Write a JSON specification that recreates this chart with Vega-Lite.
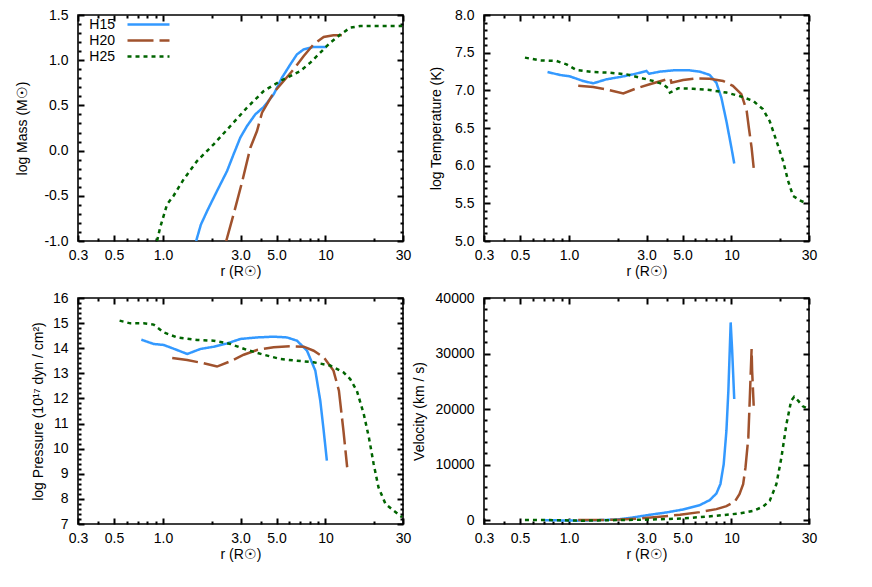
{
"$schema": "https://vega.github.io/schema/vega-lite/v6.json",
"background": "white",
"padding": {"left": 15, "top": 7, "right": 5, "bottom": 5},
"config": {
 "font": "Liberation Sans",
 "view": {"stroke": "#000", "strokeWidth": 1.6},
 "axis": {"grid": false, "domain": false, "ticks": true, "tickColor": "black", "tickWidth": 2, "tickOpacity": 1, "labelFontSize": 14, "titleFontSize": 14, "labelColor": "#000", "titleColor": "#000", "titleFontWeight": "normal", "labelFlush": false, "labelOverlap": false, "labelBound": false, "zindex": 1},
 "legend": {"labelFontSize": 14, "labelColor": "#000"}
},
"datasets": {
 "mass": [
  {"r":1.60,"v":-1.0,"s":"H15"},{"r":1.71,"v":-0.82,"s":"H15"},{"r":1.87,"v":-0.668,"s":"H15"},{"r":2.15,"v":-0.447,"s":"H15"},{"r":2.48,"v":-0.226,"s":"H15"},{"r":2.72,"v":-0.041,"s":"H15"},{"r":2.99,"v":0.143,"s":"H15"},{"r":3.29,"v":0.272,"s":"H15"},{"r":3.70,"v":0.401,"s":"H15"},{"r":4.17,"v":0.483,"s":"H15"},{"r":4.80,"v":0.622,"s":"H15"},{"r":5.40,"v":0.807,"s":"H15"},{"r":6.08,"v":0.954,"s":"H15"},{"r":6.68,"v":1.065,"s":"H15"},{"r":7.35,"v":1.12,"s":"H15"},{"r":8.46,"v":1.146,"s":"H15"},{"r":10.2,"v":1.146,"s":"H15"},
  {"r":2.45,"v":-1.0,"s":"H20"},{"r":2.72,"v":-0.705,"s":"H20"},{"r":3.06,"v":-0.355,"s":"H20"},{"r":3.45,"v":0.032,"s":"H20"},{"r":3.79,"v":0.217,"s":"H20"},{"r":4.07,"v":0.42,"s":"H20"},{"r":4.80,"v":0.641,"s":"H20"},{"r":5.53,"v":0.77,"s":"H20"},{"r":6.37,"v":0.899,"s":"H20"},{"r":7.35,"v":1.046,"s":"H20"},{"r":8.46,"v":1.176,"s":"H20"},{"r":9.75,"v":1.257,"s":"H20"},{"r":11.2,"v":1.275,"s":"H20"},{"r":13.6,"v":1.275,"s":"H20"},
  {"r":0.92,"v":-1.0,"s":"H25"},{"r":0.96,"v":-0.853,"s":"H25"},{"r":1.06,"v":-0.594,"s":"H25"},{"r":1.16,"v":-0.502,"s":"H25"},{"r":1.34,"v":-0.318,"s":"H25"},{"r":1.62,"v":-0.115,"s":"H25"},{"r":2.05,"v":0.069,"s":"H25"},{"r":2.60,"v":0.272,"s":"H25"},{"r":3.29,"v":0.475,"s":"H25"},{"r":4.17,"v":0.659,"s":"H25"},{"r":5.28,"v":0.77,"s":"H25"},{"r":6.08,"v":0.825,"s":"H25"},{"r":7.01,"v":0.881,"s":"H25"},{"r":8.07,"v":0.973,"s":"H25"},{"r":9.29,"v":1.083,"s":"H25"},{"r":10.7,"v":1.194,"s":"H25"},{"r":12.4,"v":1.286,"s":"H25"},{"r":14.2,"v":1.36,"s":"H25"},{"r":16.4,"v":1.378,"s":"H25"},{"r":29.6,"v":1.378,"s":"H25"}
 ],
 "temp": [
  {"r":0.738,"v":7.243,"s":"H15"},{"r":0.88,"v":7.204,"s":"H15"},{"r":1.01,"v":7.186,"s":"H15"},{"r":1.22,"v":7.124,"s":"H15"},{"r":1.41,"v":7.093,"s":"H15"},{"r":1.70,"v":7.146,"s":"H15"},{"r":2.06,"v":7.177,"s":"H15"},{"r":2.48,"v":7.212,"s":"H15"},{"r":3.0,"v":7.257,"s":"H15"},{"r":3.11,"v":7.22,"s":"H15"},{"r":3.62,"v":7.248,"s":"H15"},{"r":4.38,"v":7.265,"s":"H15"},{"r":5.54,"v":7.265,"s":"H15"},{"r":6.38,"v":7.248,"s":"H15"},{"r":7.35,"v":7.204,"s":"H15"},{"r":8.08,"v":7.10,"s":"H15"},{"r":8.67,"v":6.90,"s":"H15"},{"r":9.31,"v":6.59,"s":"H15"},{"r":9.99,"v":6.24,"s":"H15"},{"r":10.4,"v":6.03,"s":"H15"},
  {"r":1.14,"v":7.06,"s":"H20"},{"r":1.41,"v":7.044,"s":"H20"},{"r":1.70,"v":7.013,"s":"H20"},{"r":2.16,"v":6.96,"s":"H20"},{"r":2.60,"v":7.027,"s":"H20"},{"r":3.14,"v":7.08,"s":"H20"},{"r":3.98,"v":7.146,"s":"H20"},{"r":4.22,"v":7.155,"s":"H20"},{"r":4.27,"v":7.10,"s":"H20"},{"r":5.04,"v":7.137,"s":"H20"},{"r":6.08,"v":7.159,"s":"H20"},{"r":7.35,"v":7.155,"s":"H20"},{"r":8.88,"v":7.124,"s":"H20"},{"r":10.2,"v":7.06,"s":"H20"},{"r":11.5,"v":6.95,"s":"H20"},{"r":12.4,"v":6.73,"s":"H20"},{"r":12.8,"v":6.50,"s":"H20"},{"r":13.3,"v":6.24,"s":"H20"},{"r":13.7,"v":5.97,"s":"H20"},
  {"r":0.536,"v":7.434,"s":"H25"},{"r":0.66,"v":7.398,"s":"H25"},{"r":0.84,"v":7.389,"s":"H25"},{"r":0.966,"v":7.345,"s":"H25"},{"r":1.11,"v":7.27,"s":"H25"},{"r":1.41,"v":7.243,"s":"H25"},{"r":1.79,"v":7.234,"s":"H25"},{"r":2.26,"v":7.212,"s":"H25"},{"r":2.73,"v":7.168,"s":"H25"},{"r":3.30,"v":7.124,"s":"H25"},{"r":3.80,"v":7.08,"s":"H25"},{"r":4.08,"v":7.027,"s":"H25"},{"r":4.18,"v":6.97,"s":"H25"},{"r":4.38,"v":6.99,"s":"H25"},{"r":4.70,"v":7.027,"s":"H25"},{"r":5.81,"v":7.022,"s":"H25"},{"r":7.35,"v":7.004,"s":"H25"},{"r":9.31,"v":6.97,"s":"H25"},{"r":11.2,"v":6.925,"s":"H25"},{"r":13.6,"v":6.86,"s":"H25"},{"r":15.6,"v":6.75,"s":"H25"},{"r":17.2,"v":6.59,"s":"H25"},{"r":18.9,"v":6.33,"s":"H25"},{"r":20.8,"v":6.06,"s":"H25"},{"r":22.3,"v":5.80,"s":"H25"},{"r":23.9,"v":5.60,"s":"H25"},{"r":26.3,"v":5.54,"s":"H25"},{"r":28.9,"v":5.50,"s":"H25"}
 ],
 "pres": [
  {"r":0.736,"v":14.34,"s":"H15"},{"r":0.876,"v":14.17,"s":"H15"},{"r":1.01,"v":14.13,"s":"H15"},{"r":1.22,"v":13.93,"s":"H15"},{"r":1.41,"v":13.77,"s":"H15"},{"r":1.70,"v":13.97,"s":"H15"},{"r":2.05,"v":14.06,"s":"H15"},{"r":2.48,"v":14.19,"s":"H15"},{"r":3.0,"v":14.37,"s":"H15"},{"r":3.79,"v":14.43,"s":"H15"},{"r":4.80,"v":14.46,"s":"H15"},{"r":5.79,"v":14.43,"s":"H15"},{"r":6.68,"v":14.30,"s":"H15"},{"r":7.70,"v":13.90,"s":"H15"},{"r":8.66,"v":13.11,"s":"H15"},{"r":9.29,"v":11.91,"s":"H15"},{"r":9.75,"v":10.72,"s":"H15"},{"r":10.2,"v":9.52,"s":"H15"},
  {"r":1.14,"v":13.61,"s":"H20"},{"r":1.41,"v":13.53,"s":"H20"},{"r":1.78,"v":13.40,"s":"H20"},{"r":2.15,"v":13.27,"s":"H20"},{"r":2.60,"v":13.48,"s":"H20"},{"r":3.14,"v":13.74,"s":"H20"},{"r":3.79,"v":13.93,"s":"H20"},{"r":4.80,"v":14.04,"s":"H20"},{"r":6.08,"v":14.08,"s":"H20"},{"r":7.35,"v":14.06,"s":"H20"},{"r":8.46,"v":13.90,"s":"H20"},{"r":9.75,"v":13.64,"s":"H20"},{"r":11.2,"v":13.11,"s":"H20"},{"r":12.1,"v":12.31,"s":"H20"},{"r":12.9,"v":10.72,"s":"H20"},{"r":13.6,"v":9.26,"s":"H20"},
  {"r":0.541,"v":15.10,"s":"H25"},{"r":0.63,"v":14.99,"s":"H25"},{"r":0.76,"v":14.99,"s":"H25"},{"r":0.876,"v":14.94,"s":"H25"},{"r":1.01,"v":14.63,"s":"H25"},{"r":1.22,"v":14.43,"s":"H25"},{"r":1.62,"v":14.33,"s":"H25"},{"r":2.05,"v":14.30,"s":"H25"},{"r":2.60,"v":14.17,"s":"H25"},{"r":3.29,"v":13.93,"s":"H25"},{"r":4.17,"v":13.74,"s":"H25"},{"r":5.28,"v":13.57,"s":"H25"},{"r":6.68,"v":13.50,"s":"H25"},{"r":8.46,"v":13.44,"s":"H25"},{"r":10.7,"v":13.31,"s":"H25"},{"r":12.9,"v":13.04,"s":"H25"},{"r":14.2,"v":12.77,"s":"H25"},{"r":15.6,"v":12.31,"s":"H25"},{"r":17.2,"v":11.38,"s":"H25"},{"r":18.5,"v":10.45,"s":"H25"},{"r":19.8,"v":9.39,"s":"H25"},{"r":21.2,"v":8.46,"s":"H25"},{"r":23.4,"v":7.80,"s":"H25"},{"r":26.3,"v":7.53,"s":"H25"},{"r":29.6,"v":7.27,"s":"H25"}
 ],
 "vel": [
  {"r":0.71,"v":0,"s":"H15"},{"r":1.11,"v":-100,"s":"H15"},{"r":1.55,"v":0,"s":"H15"},{"r":1.96,"v":100,"s":"H15"},{"r":2.48,"v":480,"s":"H15"},{"r":3.14,"v":960,"s":"H15"},{"r":3.98,"v":1380,"s":"H15"},{"r":5.04,"v":1920,"s":"H15"},{"r":6.38,"v":2700,"s":"H15"},{"r":7.35,"v":3600,"s":"H15"},{"r":8.08,"v":4800,"s":"H15"},{"r":8.55,"v":6490,"s":"H15"},{"r":8.96,"v":10090,"s":"H15"},{"r":9.31,"v":16100,"s":"H15"},{"r":9.57,"v":23300,"s":"H15"},{"r":9.89,"v":35600,"s":"H15"},{"r":10.1,"v":30500,"s":"H15"},{"r":10.4,"v":21800,"s":"H15"},
  {"r":1.14,"v":0,"s":"H20"},{"r":1.55,"v":0,"s":"H20"},{"r":2.06,"v":100,"s":"H20"},{"r":2.73,"v":300,"s":"H20"},{"r":3.62,"v":600,"s":"H20"},{"r":4.82,"v":960,"s":"H20"},{"r":6.38,"v":1440,"s":"H20"},{"r":8.08,"v":1980,"s":"H20"},{"r":9.31,"v":2520,"s":"H20"},{"r":10.5,"v":3360,"s":"H20"},{"r":11.2,"v":4680,"s":"H20"},{"r":11.8,"v":6490,"s":"H20"},{"r":12.2,"v":9490,"s":"H20"},{"r":12.7,"v":14900,"s":"H20"},{"r":12.95,"v":21500,"s":"H20"},{"r":13.3,"v":30800,"s":"H20"},{"r":13.4,"v":26900,"s":"H20"},{"r":13.7,"v":20600,"s":"H20"},
  {"r":0.536,"v":0,"s":"H25"},{"r":0.76,"v":0,"s":"H25"},{"r":1.22,"v":-100,"s":"H25"},{"r":1.96,"v":0,"s":"H25"},{"r":3.14,"v":100,"s":"H25"},{"r":5.04,"v":300,"s":"H25"},{"r":8.08,"v":780,"s":"H25"},{"r":11.2,"v":1200,"s":"H25"},{"r":13.6,"v":1680,"s":"H25"},{"r":15.6,"v":2400,"s":"H25"},{"r":17.2,"v":3480,"s":"H25"},{"r":18.9,"v":6490,"s":"H25"},{"r":20.3,"v":11290,"s":"H25"},{"r":21.8,"v":17300,"s":"H25"},{"r":23.3,"v":21500,"s":"H25"},{"r":24.3,"v":22200,"s":"H25"},{"r":25.7,"v":21500,"s":"H25"},{"r":27.5,"v":20500,"s":"H25"},{"r":29.6,"v":20100,"s":"H25"}
 ]
},
"columns": 2,
"spacing": {"row": 57, "column": 81},
"bounds": "flush",
"resolve": {"scale": {"color": "independent", "strokeDash": "independent"}, "legend": {"color": "independent", "strokeDash": "independent"}},
"concat": [
 {
  "width": 325, "height": 226,
  "data": {"name": "mass"},
  "resolve": {"axis": {"x": "independent", "y": "independent"}},
  "layer": [
   {"mark": {"type": "line", "strokeWidth": 2.5, "clip": true},
    "encoding": {
     "x": {"field": "r", "type": "quantitative", "scale": {"type": "log", "domain": [0.3, 30], "nice": false}, "axis": {"orient": "bottom", "values": [0.3,0.5,1,3,5,10,30], "tickSize": 0, "tickWidth": 0, "labelPadding": 7, "labelExpr": "datum.value >= 10 ? format(datum.value, 'd') : format(datum.value, '.1f')", "title": "r (R☉)", "titlePadding": 2}},
     "y": {"field": "v", "type": "quantitative", "scale": {"domain": [-1, 1.5], "nice": false, "zero": false}, "axis": {"orient": "left", "values": [-1,-0.5,0,0.5,1,1.5], "tickSize": 0, "tickWidth": 0, "labelPadding": 10, "labelExpr": "replace(format(datum.value, '.1f'), '−', '-')", "title": "log Mass (M☉)", "titlePadding": 14}},
     "color": {"field": "s", "type": "nominal", "scale": {"domain": ["H15","H20","H25"], "range": ["#3399ff","#a0522d","#006400"]}, "legend": {"orient": "none", "legendX": 62, "legendY": 1, "title": null, "symbolType": "M-3,0H3", "symbolSize": 196, "symbolStrokeWidth": 2.5, "labelAlign": "right", "labelOffset": -42, "padding": 0, "rowPadding": 0}},
     "strokeDash": {"field": "s", "type": "nominal", "scale": {"domain": ["H15","H20","H25"], "range": [[1,0],[26,6],[4,4]]}, "legend": {"orient": "none", "legendX": 62, "legendY": 1, "title": null, "symbolType": "M-3,0H3", "symbolSize": 196, "symbolStrokeWidth": 2.5, "labelAlign": "right", "labelOffset": -42, "padding": 0, "rowPadding": 0}}
    }},
   {"mark": {"type": "point", "opacity": 0},
    "encoding": {
     "x": {"field": "r", "type": "quantitative", "scale": {"type": "log", "domain": [0.3, 30], "nice": false}, "axis": {"orient": "bottom", "offset": -6, "values": [0.3,0.5,1,3,5,10,30], "tickSize": 6, "labels": false, "title": null}},
     "y": {"field": "v", "type": "quantitative", "scale": {"domain": [-1, 1.5], "nice": false, "zero": false}, "axis": {"orient": "left", "offset": -6, "values": [-1,-0.5,0,0.5,1,1.5], "tickSize": 6, "labels": false, "title": null}}
    }},
   {"mark": {"type": "point", "opacity": 0},
    "encoding": {
     "x": {"field": "r", "type": "quantitative", "scale": {"type": "log", "domain": [0.3, 30], "nice": false}, "axis": {"orient": "bottom", "offset": -3, "values": [0.4,0.6,0.7,0.8,0.9,2,4,6,7,8,9,20], "tickSize": 3, "labels": false, "title": null}},
     "y": {"field": "v", "type": "quantitative", "scale": {"domain": [-1, 1.5], "nice": false, "zero": false}, "axis": {"orient": "left", "offset": -3, "values": [-0.9,-0.8,-0.7,-0.6,-0.4,-0.3,-0.2,-0.1,0.1,0.2,0.3,0.4,0.6,0.7,0.8,0.9,1.1,1.2,1.3,1.4], "tickSize": 3, "labels": false, "title": null}}
    }},
   {"mark": {"type": "point", "opacity": 0},
    "encoding": {
     "x": {"field": "r", "type": "quantitative", "scale": {"type": "log", "domain": [0.3, 30], "nice": false}, "axis": {"orient": "top", "offset": -6, "values": [0.3,0.5,1,3,5,10,30], "tickSize": 6, "labels": false, "title": null}},
     "y": {"field": "v", "type": "quantitative", "scale": {"domain": [-1, 1.5], "nice": false, "zero": false}, "axis": {"orient": "right", "offset": -6, "values": [-1,-0.5,0,0.5,1,1.5], "tickSize": 6, "labels": false, "title": null}}
    }},
   {"mark": {"type": "point", "opacity": 0},
    "encoding": {
     "x": {"field": "r", "type": "quantitative", "scale": {"type": "log", "domain": [0.3, 30], "nice": false}, "axis": {"orient": "top", "offset": -3, "values": [0.4,0.6,0.7,0.8,0.9,2,4,6,7,8,9,20], "tickSize": 3, "labels": false, "title": null}},
     "y": {"field": "v", "type": "quantitative", "scale": {"domain": [-1, 1.5], "nice": false, "zero": false}, "axis": {"orient": "right", "offset": -3, "values": [-0.9,-0.8,-0.7,-0.6,-0.4,-0.3,-0.2,-0.1,0.1,0.2,0.3,0.4,0.6,0.7,0.8,0.9,1.1,1.2,1.3,1.4], "tickSize": 3, "labels": false, "title": null}}
    }}
  ]
 },
 {
  "width": 325, "height": 226,
  "data": {"name": "temp"},
  "resolve": {"axis": {"x": "independent", "y": "independent"}},
  "layer": [
   {"mark": {"type": "line", "strokeWidth": 2.5, "clip": true},
    "encoding": {
     "x": {"field": "r", "type": "quantitative", "scale": {"type": "log", "domain": [0.3, 30], "nice": false}, "axis": {"orient": "bottom", "values": [0.3,0.5,1,3,5,10,30], "tickSize": 0, "tickWidth": 0, "labelPadding": 7, "labelExpr": "datum.value >= 10 ? format(datum.value, 'd') : format(datum.value, '.1f')", "title": "r (R☉)", "titlePadding": 2}},
     "y": {"field": "v", "type": "quantitative", "scale": {"domain": [5, 8], "nice": false, "zero": false}, "axis": {"orient": "left", "values": [5,5.5,6,6.5,7,7.5,8], "tickSize": 0, "tickWidth": 0, "labelPadding": 10, "labelExpr": "format(datum.value, '.1f')", "title": "log Temperature (K)", "titlePadding": 11}},
     "color": {"field": "s", "type": "nominal", "scale": {"domain": ["H15","H20","H25"], "range": ["#3399ff","#a0522d","#006400"]}, "legend": null},
     "strokeDash": {"field": "s", "type": "nominal", "scale": {"domain": ["H15","H20","H25"], "range": [[1,0],[26,6],[4,4]]}, "legend": null}
    }},
   {"mark": {"type": "point", "opacity": 0},
    "encoding": {
     "x": {"field": "r", "type": "quantitative", "scale": {"type": "log", "domain": [0.3, 30], "nice": false}, "axis": {"orient": "bottom", "offset": -6, "values": [0.3,0.5,1,3,5,10,30], "tickSize": 6, "labels": false, "title": null}},
     "y": {"field": "v", "type": "quantitative", "scale": {"domain": [5, 8], "nice": false, "zero": false}, "axis": {"orient": "left", "offset": -6, "values": [5,5.5,6,6.5,7,7.5,8], "tickSize": 6, "labels": false, "title": null}}
    }},
   {"mark": {"type": "point", "opacity": 0},
    "encoding": {
     "x": {"field": "r", "type": "quantitative", "scale": {"type": "log", "domain": [0.3, 30], "nice": false}, "axis": {"orient": "bottom", "offset": -3, "values": [0.4,0.6,0.7,0.8,0.9,2,4,6,7,8,9,20], "tickSize": 3, "labels": false, "title": null}},
     "y": {"field": "v", "type": "quantitative", "scale": {"domain": [5, 8], "nice": false, "zero": false}, "axis": {"orient": "left", "offset": -3, "values": [5.1,5.2,5.3,5.4,5.6,5.7,5.8,5.9,6.1,6.2,6.3,6.4,6.6,6.7,6.8,6.9,7.1,7.2,7.3,7.4,7.6,7.7,7.8,7.9], "tickSize": 3, "labels": false, "title": null}}
    }},
   {"mark": {"type": "point", "opacity": 0},
    "encoding": {
     "x": {"field": "r", "type": "quantitative", "scale": {"type": "log", "domain": [0.3, 30], "nice": false}, "axis": {"orient": "top", "offset": -6, "values": [0.3,0.5,1,3,5,10,30], "tickSize": 6, "labels": false, "title": null}},
     "y": {"field": "v", "type": "quantitative", "scale": {"domain": [5, 8], "nice": false, "zero": false}, "axis": {"orient": "right", "offset": -6, "values": [5,5.5,6,6.5,7,7.5,8], "tickSize": 6, "labels": false, "title": null}}
    }},
   {"mark": {"type": "point", "opacity": 0},
    "encoding": {
     "x": {"field": "r", "type": "quantitative", "scale": {"type": "log", "domain": [0.3, 30], "nice": false}, "axis": {"orient": "top", "offset": -3, "values": [0.4,0.6,0.7,0.8,0.9,2,4,6,7,8,9,20], "tickSize": 3, "labels": false, "title": null}},
     "y": {"field": "v", "type": "quantitative", "scale": {"domain": [5, 8], "nice": false, "zero": false}, "axis": {"orient": "right", "offset": -3, "values": [5.1,5.2,5.3,5.4,5.6,5.7,5.8,5.9,6.1,6.2,6.3,6.4,6.6,6.7,6.8,6.9,7.1,7.2,7.3,7.4,7.6,7.7,7.8,7.9], "tickSize": 3, "labels": false, "title": null}}
    }}
  ]
 },
 {
  "width": 325, "height": 226,
  "data": {"name": "pres"},
  "resolve": {"axis": {"x": "independent", "y": "independent"}},
  "layer": [
   {"mark": {"type": "line", "strokeWidth": 2.5, "clip": true},
    "encoding": {
     "x": {"field": "r", "type": "quantitative", "scale": {"type": "log", "domain": [0.3, 30], "nice": false}, "axis": {"orient": "bottom", "values": [0.3,0.5,1,3,5,10,30], "tickSize": 0, "tickWidth": 0, "labelPadding": 7, "labelExpr": "datum.value >= 10 ? format(datum.value, 'd') : format(datum.value, '.1f')", "title": "r (R☉)", "titlePadding": 2}},
     "y": {"field": "v", "type": "quantitative", "scale": {"domain": [7, 16], "nice": false, "zero": false}, "axis": {"orient": "left", "values": [7,8,9,10,11,12,13,14,15,16], "tickSize": 0, "tickWidth": 0, "labelPadding": 10, "labelExpr": "format(datum.value, 'd')", "title": "log Pressure (10¹⁷ dyn / cm²)", "titlePadding": 7}},
     "color": {"field": "s", "type": "nominal", "scale": {"domain": ["H15","H20","H25"], "range": ["#3399ff","#a0522d","#006400"]}, "legend": null},
     "strokeDash": {"field": "s", "type": "nominal", "scale": {"domain": ["H15","H20","H25"], "range": [[1,0],[26,6],[4,4]]}, "legend": null}
    }},
   {"mark": {"type": "point", "opacity": 0},
    "encoding": {
     "x": {"field": "r", "type": "quantitative", "scale": {"type": "log", "domain": [0.3, 30], "nice": false}, "axis": {"orient": "bottom", "offset": -6, "values": [0.3,0.5,1,3,5,10,30], "tickSize": 6, "labels": false, "title": null}},
     "y": {"field": "v", "type": "quantitative", "scale": {"domain": [7, 16], "nice": false, "zero": false}, "axis": {"orient": "left", "offset": -6, "values": [7,8,9,10,11,12,13,14,15,16], "tickSize": 6, "labels": false, "title": null}}
    }},
   {"mark": {"type": "point", "opacity": 0},
    "encoding": {
     "x": {"field": "r", "type": "quantitative", "scale": {"type": "log", "domain": [0.3, 30], "nice": false}, "axis": {"orient": "bottom", "offset": -3, "values": [0.4,0.6,0.7,0.8,0.9,2,4,6,7,8,9,20], "tickSize": 3, "labels": false, "title": null}},
     "y": {"field": "v", "type": "quantitative", "scale": {"domain": [7, 16], "nice": false, "zero": false}, "axis": {"orient": "left", "offset": -3, "values": [7.2,7.4,7.6,7.8,8.2,8.4,8.6,8.8,9.2,9.4,9.6,9.8,10.2,10.4,10.6,10.8,11.2,11.4,11.6,11.8,12.2,12.4,12.6,12.8,13.2,13.4,13.6,13.8,14.2,14.4,14.6,14.8,15.2,15.4,15.6,15.8], "tickSize": 3, "labels": false, "title": null}}
    }},
   {"mark": {"type": "point", "opacity": 0},
    "encoding": {
     "x": {"field": "r", "type": "quantitative", "scale": {"type": "log", "domain": [0.3, 30], "nice": false}, "axis": {"orient": "top", "offset": -6, "values": [0.3,0.5,1,3,5,10,30], "tickSize": 6, "labels": false, "title": null}},
     "y": {"field": "v", "type": "quantitative", "scale": {"domain": [7, 16], "nice": false, "zero": false}, "axis": {"orient": "right", "offset": -6, "values": [7,8,9,10,11,12,13,14,15,16], "tickSize": 6, "labels": false, "title": null}}
    }},
   {"mark": {"type": "point", "opacity": 0},
    "encoding": {
     "x": {"field": "r", "type": "quantitative", "scale": {"type": "log", "domain": [0.3, 30], "nice": false}, "axis": {"orient": "top", "offset": -3, "values": [0.4,0.6,0.7,0.8,0.9,2,4,6,7,8,9,20], "tickSize": 3, "labels": false, "title": null}},
     "y": {"field": "v", "type": "quantitative", "scale": {"domain": [7, 16], "nice": false, "zero": false}, "axis": {"orient": "right", "offset": -3, "values": [7.2,7.4,7.6,7.8,8.2,8.4,8.6,8.8,9.2,9.4,9.6,9.8,10.2,10.4,10.6,10.8,11.2,11.4,11.6,11.8,12.2,12.4,12.6,12.8,13.2,13.4,13.6,13.8,14.2,14.4,14.6,14.8,15.2,15.4,15.6,15.8], "tickSize": 3, "labels": false, "title": null}}
    }}
  ]
 },
 {
  "width": 325, "height": 226,
  "data": {"name": "vel"},
  "resolve": {"axis": {"x": "independent", "y": "independent"}},
  "layer": [
   {"mark": {"type": "line", "strokeWidth": 2.5, "clip": true},
    "encoding": {
     "x": {"field": "r", "type": "quantitative", "scale": {"type": "log", "domain": [0.3, 30], "nice": false}, "axis": {"orient": "bottom", "values": [0.3,0.5,1,3,5,10,30], "tickSize": 0, "tickWidth": 0, "labelPadding": 7, "labelExpr": "datum.value >= 10 ? format(datum.value, 'd') : format(datum.value, '.1f')", "title": "r (R☉)", "titlePadding": 2}},
     "y": {"field": "v", "type": "quantitative", "scale": {"domain": [-700, 40000], "nice": false, "zero": false}, "axis": {"orient": "left", "values": [0,10000,20000,30000,40000], "tickSize": 0, "tickWidth": 0, "labelPadding": 10, "labelExpr": "format(datum.value, 'd')", "title": "Velocity (km / s)", "titlePadding": 9}},
     "color": {"field": "s", "type": "nominal", "scale": {"domain": ["H15","H20","H25"], "range": ["#3399ff","#a0522d","#006400"]}, "legend": null},
     "strokeDash": {"field": "s", "type": "nominal", "scale": {"domain": ["H15","H20","H25"], "range": [[1,0],[26,6],[4,4]]}, "legend": null}
    }},
   {"mark": {"type": "point", "opacity": 0},
    "encoding": {
     "x": {"field": "r", "type": "quantitative", "scale": {"type": "log", "domain": [0.3, 30], "nice": false}, "axis": {"orient": "bottom", "offset": -6, "values": [0.3,0.5,1,3,5,10,30], "tickSize": 6, "labels": false, "title": null}},
     "y": {"field": "v", "type": "quantitative", "scale": {"domain": [-700, 40000], "nice": false, "zero": false}, "axis": {"orient": "left", "offset": -6, "values": [0,10000,20000,30000,40000], "tickSize": 6, "labels": false, "title": null}}
    }},
   {"mark": {"type": "point", "opacity": 0},
    "encoding": {
     "x": {"field": "r", "type": "quantitative", "scale": {"type": "log", "domain": [0.3, 30], "nice": false}, "axis": {"orient": "bottom", "offset": -3, "values": [0.4,0.6,0.7,0.8,0.9,2,4,6,7,8,9,20], "tickSize": 3, "labels": false, "title": null}},
     "y": {"field": "v", "type": "quantitative", "scale": {"domain": [-700, 40000], "nice": false, "zero": false}, "axis": {"orient": "left", "offset": -3, "values": [2000,4000,6000,8000,12000,14000,16000,18000,22000,24000,26000,28000,32000,34000,36000,38000], "tickSize": 3, "labels": false, "title": null}}
    }},
   {"mark": {"type": "point", "opacity": 0},
    "encoding": {
     "x": {"field": "r", "type": "quantitative", "scale": {"type": "log", "domain": [0.3, 30], "nice": false}, "axis": {"orient": "top", "offset": -6, "values": [0.3,0.5,1,3,5,10,30], "tickSize": 6, "labels": false, "title": null}},
     "y": {"field": "v", "type": "quantitative", "scale": {"domain": [-700, 40000], "nice": false, "zero": false}, "axis": {"orient": "right", "offset": -6, "values": [0,10000,20000,30000,40000], "tickSize": 6, "labels": false, "title": null}}
    }},
   {"mark": {"type": "point", "opacity": 0},
    "encoding": {
     "x": {"field": "r", "type": "quantitative", "scale": {"type": "log", "domain": [0.3, 30], "nice": false}, "axis": {"orient": "top", "offset": -3, "values": [0.4,0.6,0.7,0.8,0.9,2,4,6,7,8,9,20], "tickSize": 3, "labels": false, "title": null}},
     "y": {"field": "v", "type": "quantitative", "scale": {"domain": [-700, 40000], "nice": false, "zero": false}, "axis": {"orient": "right", "offset": -3, "values": [2000,4000,6000,8000,12000,14000,16000,18000,22000,24000,26000,28000,32000,34000,36000,38000], "tickSize": 3, "labels": false, "title": null}}
    }}
  ]
 }
]
}
